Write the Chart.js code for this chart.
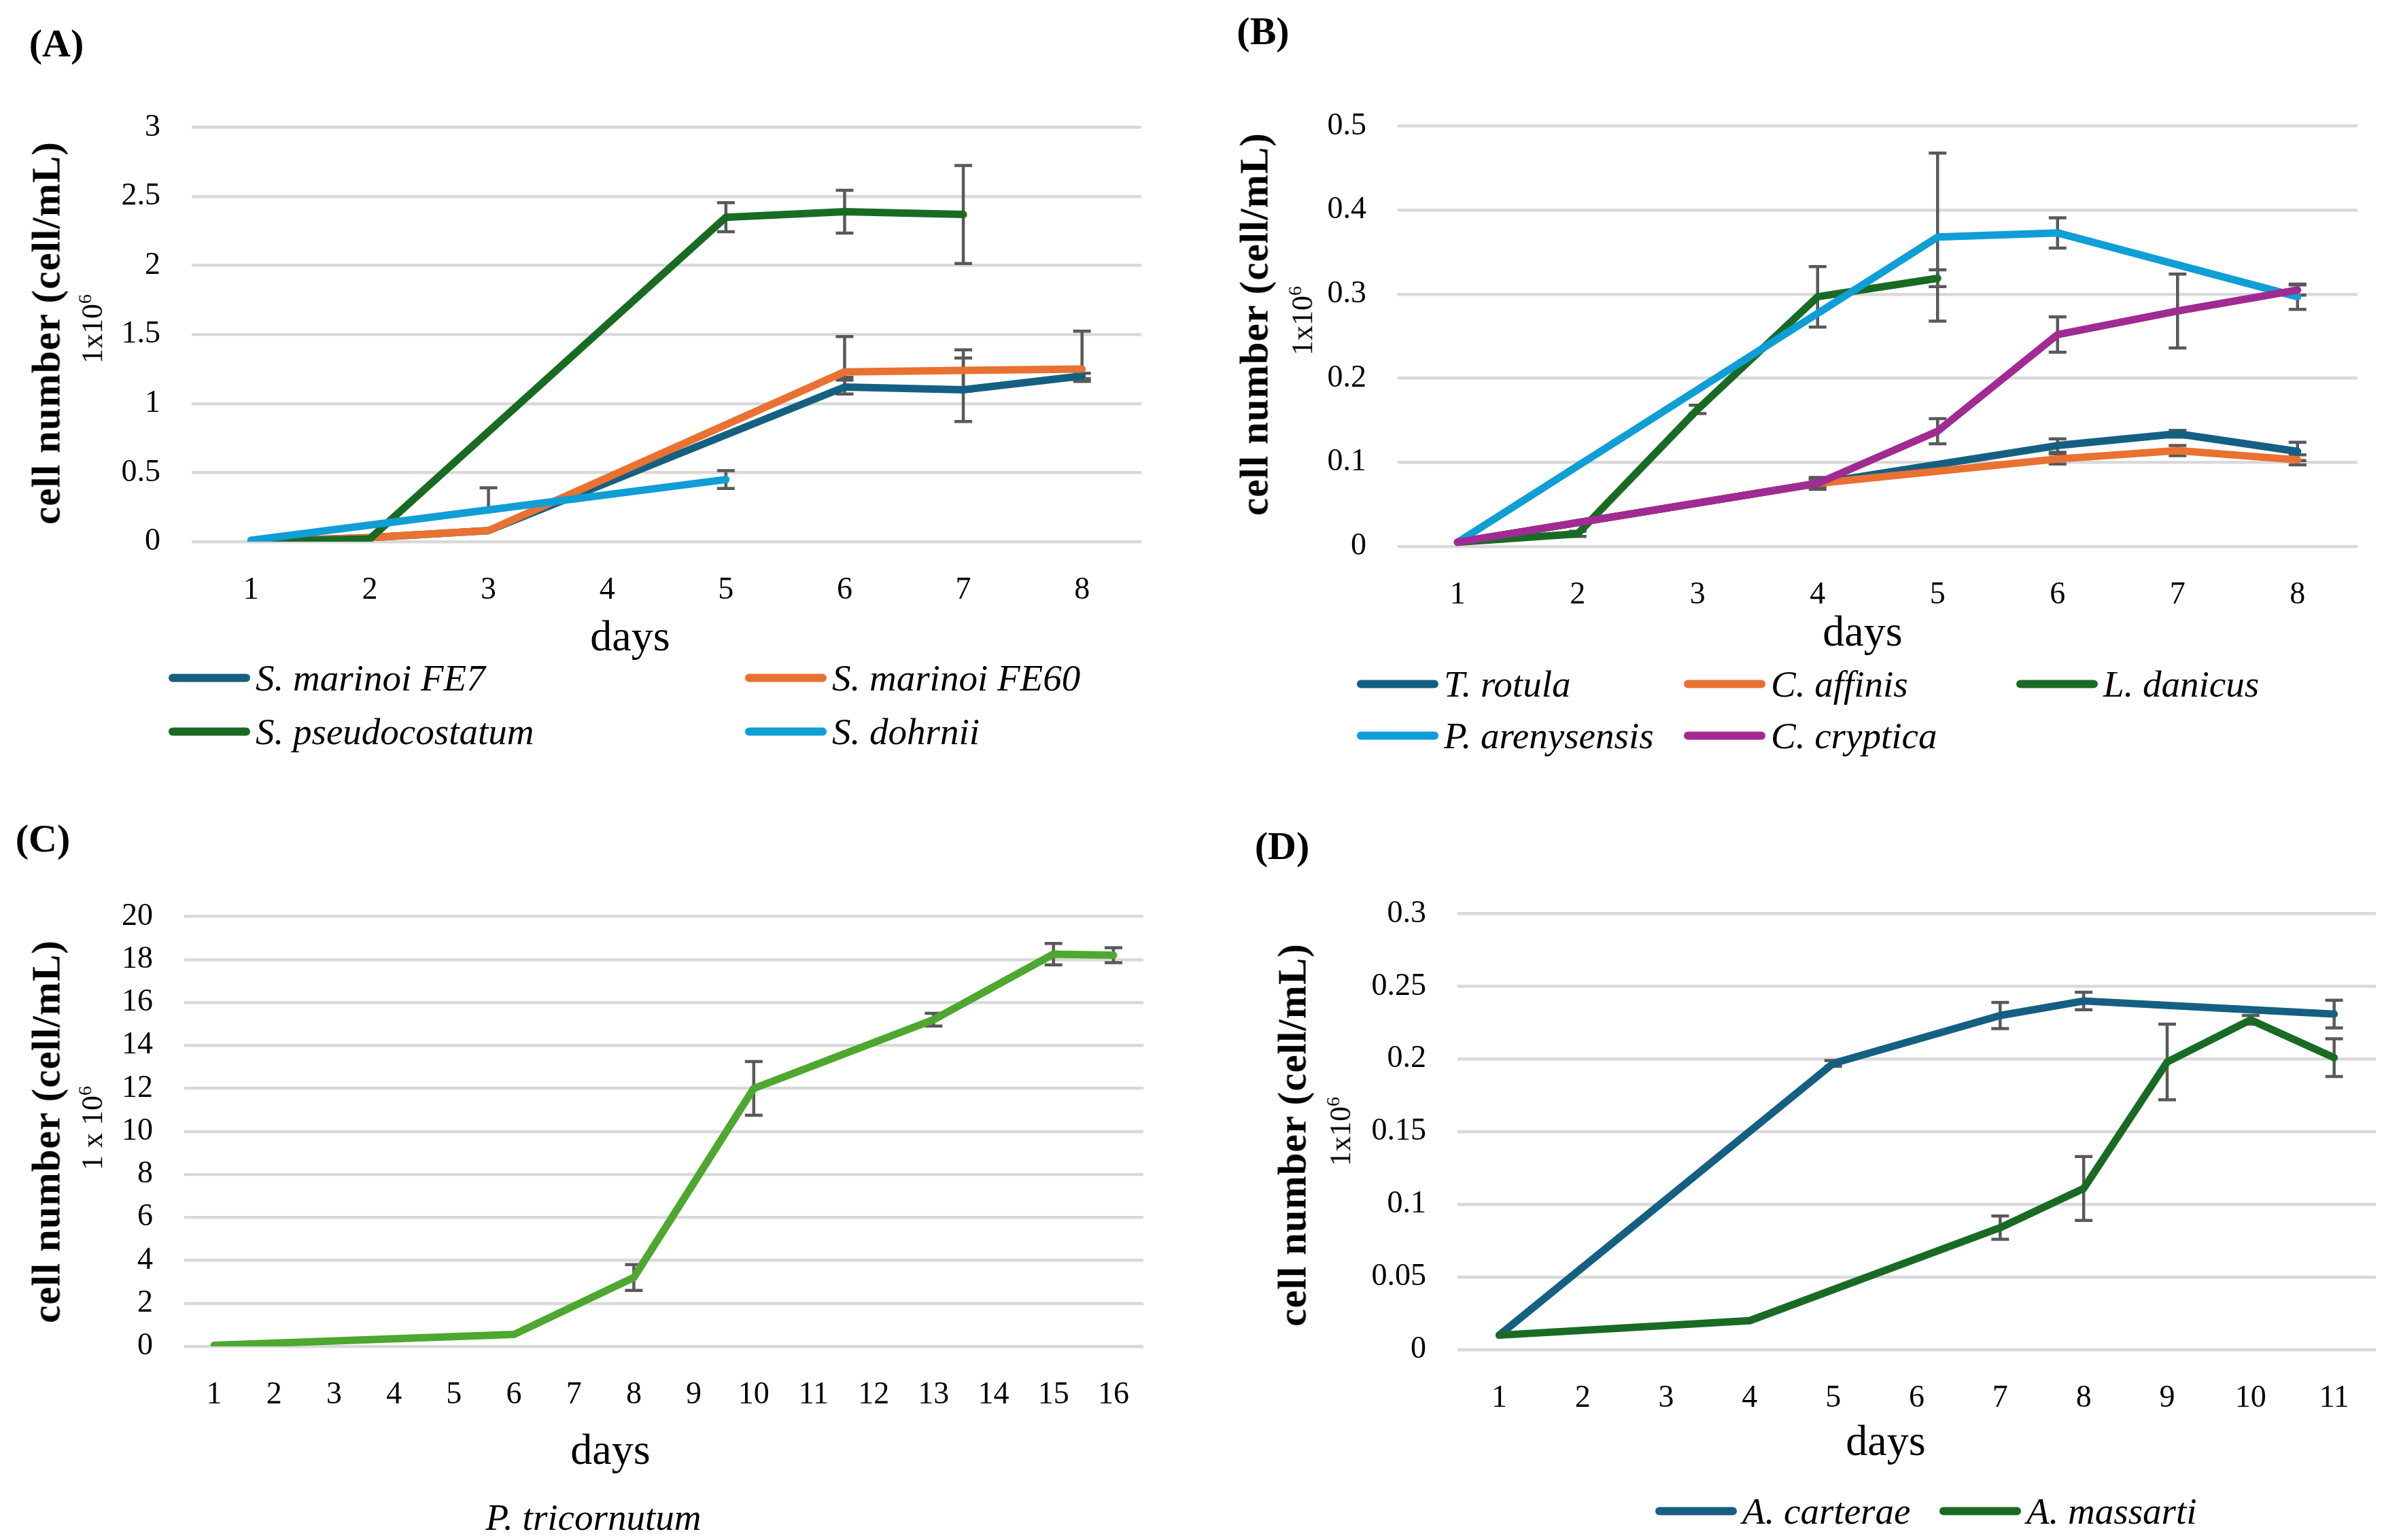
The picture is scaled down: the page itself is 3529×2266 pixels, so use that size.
<!DOCTYPE html>
<html>
<head>
<meta charset="utf-8">
<script src="https://cdn.jsdelivr.net/npm/chart.js@4.4.1/dist/chart.umd.min.js"></script>
<style>
html, body { margin: 0; padding: 0; background: #fff; }
#page { position: relative; width: 3529px; height: 2266px; overflow: hidden; font-family: 'Liberation Serif', serif; color: #000; }
canvas { position: absolute; }
.t { position: absolute; transform: translate(-50%, -50%); white-space: nowrap; }
.panel { font-weight: bold; font-size: 58px; }
.axis { font-size: 64px; }
.ytitle { font-size: 59px; font-weight: bold; letter-spacing: 1px; transform: translate(-50%, -50%) rotate(-90deg); }
.yunit { font-size: 44px; transform: translate(-50%, -50%) rotate(-90deg); }
.yunit sup { font-size: 28px; }
.leg { position: absolute; display: flex; align-items: center; font-style: italic; font-size: 55px; white-space: nowrap; transform: translateY(-50%); }
.leg span.sw { display: inline-block; width: 120px; height: 12px; border-radius: 6px; margin-right: 8px; }
.it { font-style: italic; font-size: 55px; }
</style>
</head>
<body>
<div id="page">
  <canvas id="chartA"></canvas>
  <canvas id="chartB"></canvas>
  <canvas id="chartC"></canvas>
  <canvas id="chartD"></canvas>

  <div class="t panel" style="left:83px;top:63px">(A)</div>
  <div class="t ytitle" style="left:68px;top:490px">cell number (cell/mL)</div>
  <div class="t yunit" style="left:135px;top:484px">1x10<sup>6</sup></div>
  <div class="t axis" style="left:927px;top:936px">days</div>
  <div id="legA"></div>

  <div class="t panel" style="left:1858px;top:45px">(B)</div>
  <div class="t ytitle" style="left:1845px;top:477px">cell number (cell/mL)</div>
  <div class="t yunit" style="left:1915px;top:472px">1x10<sup>6</sup></div>
  <div class="t axis" style="left:2740px;top:929px">days</div>
  <div id="legB"></div>

  <div class="t panel" style="left:63px;top:1233px">(C)</div>
  <div class="t ytitle" style="left:68px;top:1665px">cell number (cell/mL)</div>
  <div class="t yunit" style="left:135px;top:1660px">1 x 10<sup>6</sup></div>
  <div class="t axis" style="left:898px;top:2133px">days</div>
  <div class="t it" style="left:873px;top:2232px">P. tricornutum</div>

  <div class="t panel" style="left:1886px;top:1244px">(D)</div>
  <div class="t ytitle" style="left:1901px;top:1670px">cell number (cell/mL)</div>
  <div class="t yunit" style="left:1971px;top:1665px">1x10<sup>6</sup></div>
  <div class="t axis" style="left:2774px;top:2120px">days</div>
  <div id="legD"></div>
</div>

<script>
// ---- data (values in 1x10^6 cell/mL) ----
const daysAB = ['1', '2', '3', '4', '5', '6', '7', '8'];
const daysC = ['1', '2', '3', '4', '5', '6', '7', '8', '9', '10', '11', '12', '13', '14', '15', '16'];
const daysD = ['1', '2', '3', '4', '5', '6', '7', '8', '9', '10', '11'];

// (A)
const marinoiFE7 = [0, 0.03, 0.08, null, null, 1.12, 1.10, 1.20];
const marinoiFE60 = [0, 0.03, 0.08, null, null, 1.23, 1.24, 1.25];
const pseudocostatum = [0, 0.02, null, null, 2.35, 2.39, 2.37, null];
const dohrnii = [0.01, null, 0.23, null, 0.45, null, null, null];
// error bars: number = +/-, pair = [minus, plus]
const marinoiFE7Err = [null, null, null, null, null, 0.05, 0.23, 0.02];
const marinoiFE60Err = [null, null, null, null, null, [0.04, 0.255], 0.15, [0.09, 0.275]];
const pseudocostatumErr = [null, null, null, null, 0.105, 0.155, 0.355, null];
const dohrniiErr = [null, null, [0, 0.16], null, 0.065, null, null, null];

// (B)
const rotula = [0.005, null, null, 0.075, null, 0.12, 0.134, 0.113];
const affinis = [0.005, null, null, 0.075, null, 0.104, 0.114, 0.103];
const danicus = [0.005, 0.015, 0.163, 0.297, 0.319, null, null, null];
const arenysensis = [0.005, null, null, null, 0.368, 0.373, null, 0.297];
const cryptica = [0.005, null, null, 0.075, 0.137, 0.252, 0.28, 0.305];
const rotulaErr = [null, null, null, 0.007, null, 0.008, 0.004, 0.011];
const affinisErr = [null, null, null, 0.005, null, 0.006, 0.006, 0.006];
const danicusErr = [null, 0.003, 0.005, 0.036, 0.01, null, null, null];
const arenysensisErr = [null, null, null, null, 0.1, 0.018, null, 0.015];
const crypticaErr = [null, null, null, 0.005, 0.015, 0.021, 0.044, 0.006];

// (C)
const tricornutum = [0.05, null, null, null, null, 0.55, null, 3.2, null, 12.0, null, null, 15.2, null, 18.25, 18.2];
const tricornutumErr = [null, null, null, null, null, null, null, 0.6, null, 1.25, null, null, 0.3, null, 0.5, 0.35];

// (D)
const carterae = [0.01, null, null, null, 0.197, null, 0.23, 0.24, null, 0.234, 0.231];
const massarti = [0.01, null, null, 0.02, null, null, 0.084, 0.111, 0.198, 0.227, 0.201];
const carteraeErr = [null, null, null, null, 0.002, null, 0.009, 0.006, null, null, 0.0095];
const massartiErr = [null, null, null, null, null, null, 0.008, 0.022, 0.026, 0.003, 0.013];

// colours (Office theme)
const C_TEAL = '#156082', C_ORANGE = '#E97132', C_GREEN = '#196B24',
      C_BLUE = '#0F9ED5', C_PURPLE = '#A02B93', C_LIME = '#4EA72E';

// error bars drawn under the lines
const errorBars = {
    id: 'errorBars',
    beforeDatasetsDraw(chart) {
        const ctx = chart.ctx, area = chart.chartArea;
        const xs = chart.scales.x, ys = chart.scales.y;
        ctx.save();
        ctx.beginPath();
        ctx.rect(area.left, area.top, area.right - area.left, area.bottom - area.top);
        ctx.clip();
        ctx.strokeStyle = '#595959';
        ctx.lineWidth = 4.5;
        chart.data.datasets.forEach(ds => {
            (ds.errors || []).forEach((e, i) => {
                const v = ds.data[i];
                if (e == null || v == null) return;
                const lo = Array.isArray(e) ? e[0] : e;
                const hi = Array.isArray(e) ? e[1] : e;
                const x = xs.getPixelForValue(i);
                const yTop = ys.getPixelForValue(v + hi);
                const yBot = ys.getPixelForValue(v - lo);
                ctx.beginPath();
                ctx.moveTo(x, yTop); ctx.lineTo(x, yBot);
                if (hi > 0) { ctx.moveTo(x - 13, yTop); ctx.lineTo(x + 13, yTop); }
                if (lo > 0) { ctx.moveTo(x - 13, yBot); ctx.lineTo(x + 13, yBot); }
                ctx.stroke();
            });
        });
        ctx.restore();
    }
};

const tickFont = { family: 'Liberation Serif', size: 46 };

function makeChart(id, g, labels, series, yMax, step) {
    const padL = 300, padT = 60, padR = 40, padB = 150;
    const cv = document.getElementById(id);
    cv.width = g.R - g.L + padL + padR;
    cv.height = g.B - g.T + padT + padB;
    cv.style.left = (g.L - padL) + 'px';
    cv.style.top = (g.T - padT) + 'px';

    return new Chart(cv, {
        type: 'line',
        data: {
            labels: labels,
            datasets: series.map((s, i) => ({
                data: s.data,
                errors: s.err,
                borderColor: s.color,
                backgroundColor: s.color,
                borderWidth: 11,
                pointRadius: 0,
                tension: 0,
                spanGaps: true,
                borderCapStyle: 'round',
                borderJoinStyle: 'round',
                order: series.length - i
            }))
        },
        options: {
            responsive: false,
            animation: false,
            devicePixelRatio: 1,
            layout: { padding: { top: padT, right: padR, left: 0, bottom: 0 } },
            plugins: { legend: { display: false }, tooltip: { enabled: false } },
            scales: {
                x: {
                    offset: true,
                    grid: { display: false, drawTicks: false },
                    border: { display: false },
                    ticks: { color: '#000', font: tickFont, padding: 44, maxRotation: 0, autoSkip: false },
                    afterFit: s => { s.height = padB; }
                },
                y: {
                    min: 0, max: yMax,
                    grid: { color: '#D9D9D9', lineWidth: 4.5, drawTicks: false },
                    border: { display: false },
                    ticks: { stepSize: step, color: '#000', font: tickFont, padding: 46,
                             callback: v => String(+v.toFixed(3)) },
                    afterFit: s => { s.width = padL; }
                }
            }
        },
        plugins: [errorBars]
    });
}

function makeLegend(id, items) {
    const box = document.getElementById(id);
    items.forEach(it => {
        const d = document.createElement('div');
        d.className = 'leg';
        d.style.left = it.x + 'px';
        d.style.top = it.y + 'px';
        d.innerHTML = '<span class="sw" style="background:' + it.color + '"></span>' + it.name;
        box.appendChild(d);
    });
}

// (A)
makeChart('chartA', { L: 282, R: 1679, T: 174, B: 797 }, daysAB, [
    { data: marinoiFE7, err: marinoiFE7Err, color: C_TEAL },
    { data: marinoiFE60, err: marinoiFE60Err, color: C_ORANGE },
    { data: pseudocostatum, err: pseudocostatumErr, color: C_GREEN },
    { data: dohrnii, err: dohrniiErr, color: C_BLUE }
], 3, 0.5);
makeLegend('legA', [
    { name: 'S. marinoi FE7', color: C_TEAL, x: 248, y: 997 },
    { name: 'S. marinoi FE60', color: C_ORANGE, x: 1096, y: 997 },
    { name: 'S. pseudocostatum', color: C_GREEN, x: 248, y: 1076 },
    { name: 'S. dohrnii', color: C_BLUE, x: 1096, y: 1076 }
]);

// (B)
makeChart('chartB', { L: 2056, R: 3468, T: 172, B: 804 }, daysAB, [
    { data: rotula, err: rotulaErr, color: C_TEAL },
    { data: affinis, err: affinisErr, color: C_ORANGE },
    { data: danicus, err: danicusErr, color: C_GREEN },
    { data: arenysensis, err: arenysensisErr, color: C_BLUE },
    { data: cryptica, err: crypticaErr, color: C_PURPLE }
], 0.5, 0.1);
makeLegend('legB', [
    { name: 'T. rotula', color: C_TEAL, x: 1996, y: 1006 },
    { name: 'C. affinis', color: C_ORANGE, x: 2477, y: 1006 },
    { name: 'L. danicus', color: C_GREEN, x: 2966, y: 1006 },
    { name: 'P. arenysensis', color: C_BLUE, x: 1996, y: 1082 },
    { name: 'C. cryptica', color: C_PURPLE, x: 2477, y: 1082 }
]);

// (C)
makeChart('chartC', { L: 271, R: 1682, T: 1335, B: 1981 }, daysC, [
    { data: tricornutum, err: tricornutumErr, color: C_LIME }
], 20, 2);

// (D)
makeChart('chartD', { L: 2144, R: 3495, T: 1331, B: 1986 }, daysD, [
    { data: carterae, err: carteraeErr, color: C_TEAL },
    { data: massarti, err: massartiErr, color: C_GREEN }
], 0.3, 0.05);
makeLegend('legD', [
    { name: 'A. carterae', color: C_TEAL, x: 2435, y: 2223 },
    { name: 'A. massarti', color: C_GREEN, x: 2853, y: 2223 }
]);
</script>
</body>
</html>
